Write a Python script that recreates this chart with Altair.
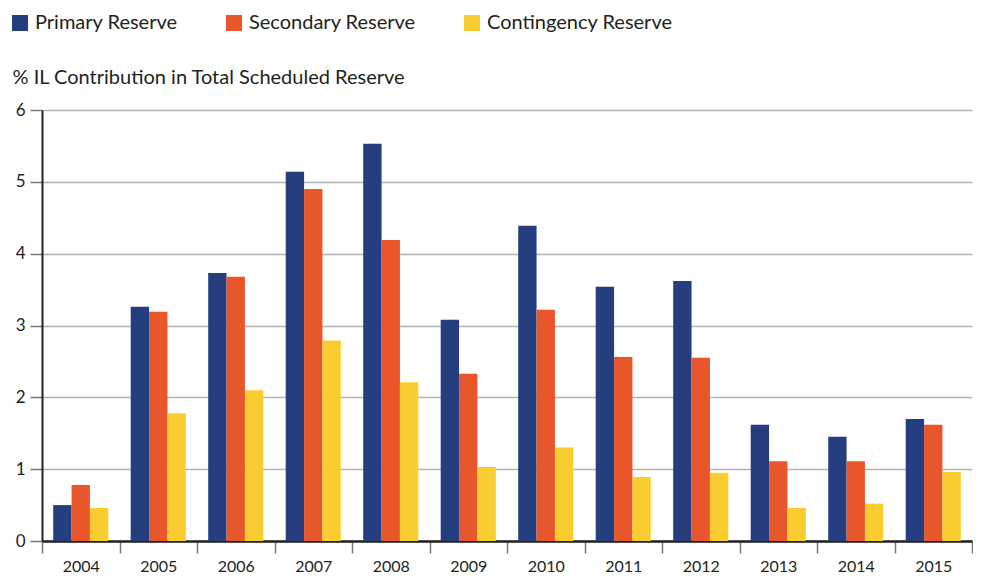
import altair as alt
import pandas as pd

years = ["2004", "2005", "2006", "2007", "2008", "2009", "2010", "2011", "2012", "2013", "2014", "2015"]
primary = [0.50, 3.26, 3.73, 5.14, 5.53, 3.08, 4.39, 3.54, 3.62, 1.62, 1.45, 1.70]
secondary = [0.78, 3.19, 3.68, 4.90, 4.19, 2.33, 3.22, 2.56, 2.55, 1.11, 1.11, 1.62]
contingency = [0.46, 1.78, 2.10, 2.79, 2.21, 1.03, 1.30, 0.89, 0.95, 0.46, 0.52, 0.96]
series = ["Primary Reserve", "Secondary Reserve", "Contingency Reserve"]
colors = ["#243e80", "#e8572c", "#f9cc30"]
y_ticks = [0, 1, 2, 3, 4, 5, 6]
y_title = "% IL Contribution in Total Scheduled Reserve"

rows = []
for name, vals in zip(series, [primary, secondary, contingency]):
    for yr, v in zip(years, vals):
        rows.append({"Year": yr, "Series": name, "Value": v})
df = pd.DataFrame(rows)

FONT = "Lato"
TXT = "#231f20"

chart = alt.Chart(df).mark_bar().encode(
    x=alt.X(
        "Year:N",
        sort=years,
        scale=alt.Scale(paddingInner=0, paddingOuter=0),
        axis=alt.Axis(
            title=None, labelAngle=0, tickBand="extent",
            domainColor="#222222", domainWidth=2.5,
            tickColor="#777777", tickWidth=1.5, tickSize=12,
            labelFont=FONT, labelFontSize=16, labelColor=TXT,
            labelBaseline="top", labelPadding=5,
        ),
    ),
    xOffset=alt.XOffset("Series:N", sort=series,
                        scale=alt.Scale(paddingInner=0, paddingOuter=0.61)),
    y=alt.Y(
        "Value:Q",
        scale=alt.Scale(domain=[0, 6], nice=False),
        axis=alt.Axis(
            values=y_ticks, format="d",
            title=y_title, titleAngle=0, titleAlign="left", titleBaseline="alphabetic",
            titleX=-30, titleY=-27, titleFont=FONT, titleFontSize=20,
            titleFontWeight="normal", titleColor=TXT,
            domainColor="#222222", domainWidth=2,
            grid=True, gridColor="#b3b3b3", gridWidth=1.5,
            tickColor="#777777", tickWidth=1.5, tickSize=12,
            labelFont=FONT, labelFontSize=17, labelColor=TXT, labelPadding=5,
        ),
    ),
    color=alt.Color(
        "Series:N",
        sort=series,
        scale=alt.Scale(domain=series, range=colors),
        legend=alt.Legend(
            title=None, orient="none", direction="horizontal",
            legendX=-32, legendY=-97, padding=0,
            symbolType="square", symbolSize=256, symbolStrokeWidth=0,
            symbolOpacity=1,
            labelFont=FONT, labelFontSize=20, labelColor=TXT, labelOffset=5,
            labelLimit=0, columnPadding=46,
        ),
    ),
).properties(
    width=930,
    height=431,
    padding={"left": 34, "top": 102, "right": 1, "bottom": 36},
    autosize=alt.AutoSizeParams(type="none"),
).configure_view(stroke=None)

chart.save("out.html", embed_options={"renderer": "svg", "actions": False})
